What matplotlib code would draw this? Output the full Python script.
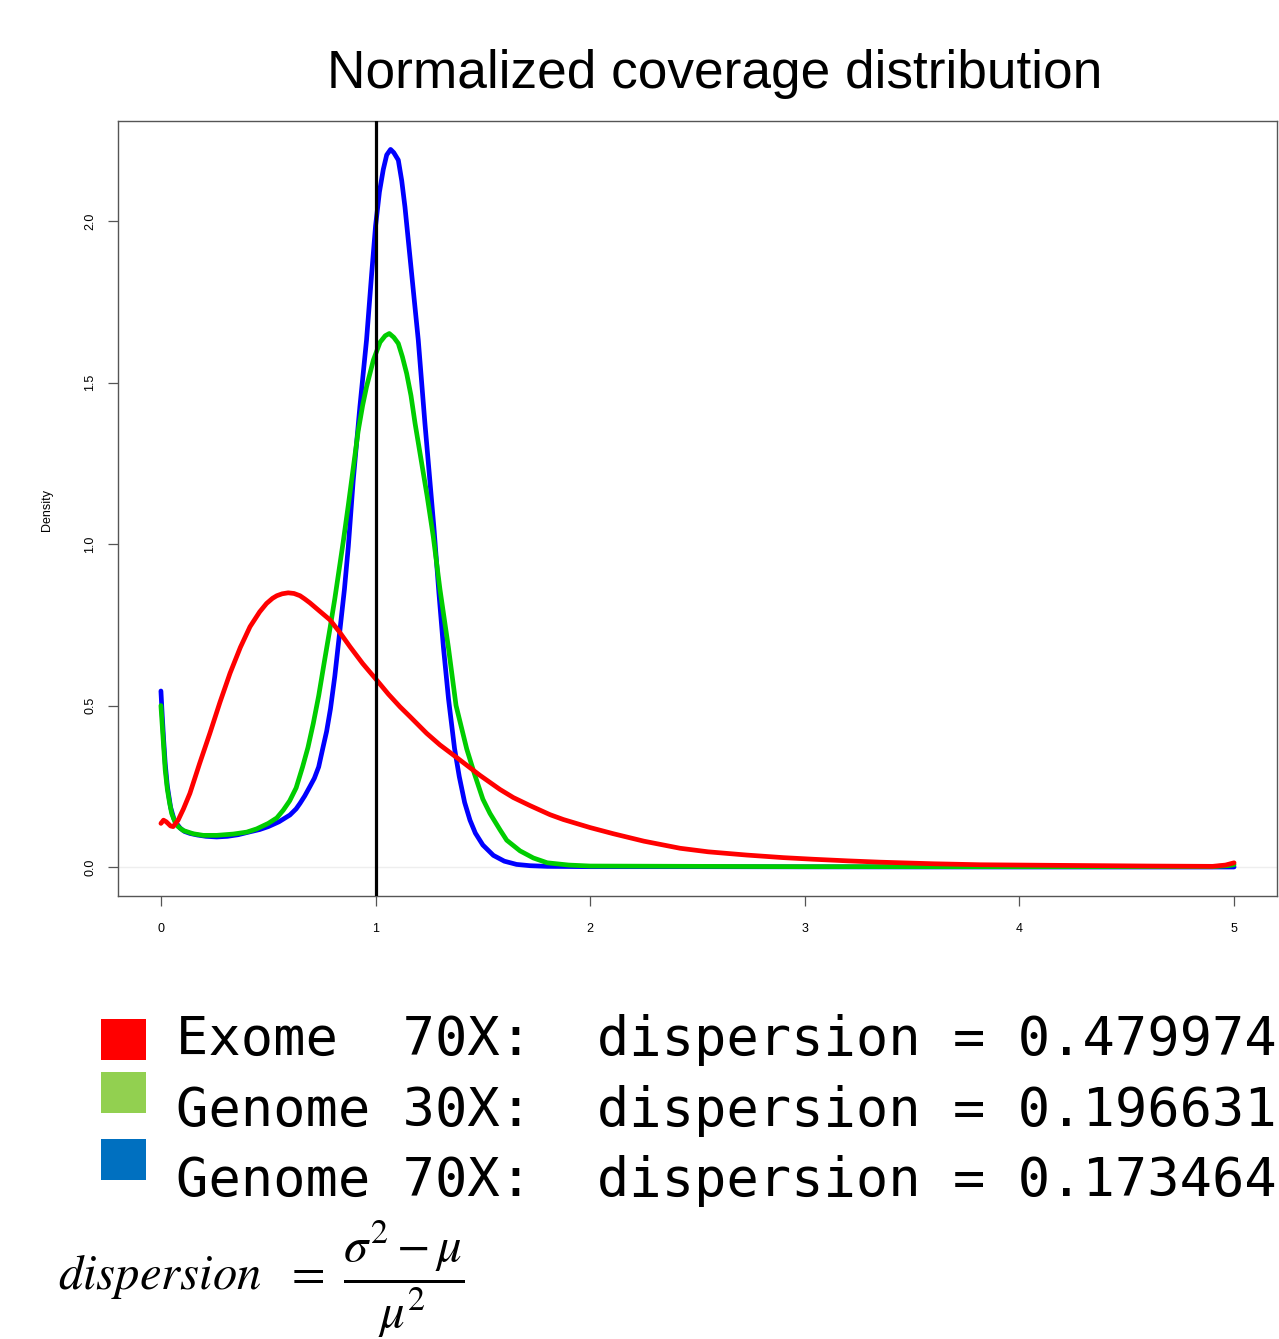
import matplotlib
matplotlib.use("Agg")
import matplotlib.pyplot as plt
from matplotlib.patches import Rectangle

# ---------------- data ----------------
blue_x = [0.000, 0.006, 0.013, 0.020, 0.030, 0.045, 0.060, 0.073, 0.090, 0.110, 0.135, 0.17,
          0.21, 0.26, 0.31, 0.36, 0.415, 0.46, 0.50, 0.55, 0.601, 0.63, 0.648, 0.67, 0.694,
          0.715, 0.735, 0.755, 0.772, 0.790, 0.81, 0.834, 0.855, 0.873, 0.896, 0.927, 0.958,
          0.982, 1.000, 1.018, 1.036, 1.052, 1.070, 1.085, 1.106, 1.122, 1.137, 1.168, 1.199,
          1.230, 1.250, 1.272, 1.295, 1.316, 1.340, 1.368, 1.390, 1.415, 1.44, 1.465, 1.50,
          1.549, 1.60, 1.657, 1.72, 1.8, 2.0, 2.5, 3.0, 4.0, 5.0]
blue_y = [0.545, 0.47, 0.39, 0.32, 0.25, 0.185, 0.150, 0.135, 0.120, 0.110, 0.104, 0.099,
          0.095, 0.093, 0.095, 0.100, 0.109, 0.116, 0.125, 0.140, 0.161, 0.180, 0.197, 0.220,
          0.249, 0.275, 0.31, 0.37, 0.42, 0.49, 0.59, 0.734, 0.86, 0.992, 1.198, 1.425, 1.632,
          1.838, 1.985, 2.09, 2.16, 2.205, 2.222, 2.212, 2.189, 2.125, 2.044, 1.838, 1.632,
          1.374, 1.22, 1.05, 0.85, 0.682, 0.52, 0.367, 0.28, 0.20, 0.145, 0.105, 0.068, 0.036,
          0.018, 0.008, 0.004, 0.002, 0.001, 0.001, 0.0005, 0.0, 0.0]

green_x = [0.000, 0.006, 0.013, 0.020, 0.030, 0.040, 0.050, 0.065, 0.080, 0.104, 0.15, 0.197,
           0.26, 0.337, 0.40, 0.446, 0.50, 0.54, 0.57, 0.60, 0.63, 0.66, 0.685, 0.71, 0.735,
           0.76, 0.788, 0.81, 0.83, 0.850, 0.873, 0.895, 0.919, 0.94, 0.958, 0.99, 1.021,
           1.045, 1.064, 1.085, 1.106, 1.125, 1.145, 1.165, 1.184, 1.215, 1.240, 1.269, 1.30,
           1.339, 1.375, 1.425, 1.46, 1.50, 1.533, 1.58, 1.611, 1.673, 1.735, 1.80, 1.9, 2.0,
           2.5, 3.0, 4.0, 4.9, 4.97, 5.0]
green_y = [0.50, 0.44, 0.37, 0.30, 0.24, 0.20, 0.166, 0.14, 0.125, 0.113, 0.103, 0.098,
           0.098, 0.102, 0.108, 0.118, 0.135, 0.152, 0.176, 0.205, 0.245, 0.31, 0.37, 0.445,
           0.53, 0.63, 0.74, 0.83, 0.92, 1.01, 1.12, 1.23, 1.35, 1.43, 1.487, 1.57, 1.625,
           1.645, 1.652, 1.64, 1.621, 1.58, 1.528, 1.46, 1.374, 1.25, 1.15, 1.023, 0.86, 0.682,
           0.50, 0.365, 0.29, 0.21, 0.166, 0.115, 0.083, 0.050, 0.028, 0.013, 0.006, 0.003,
           0.002, 0.001, 0.001, 0.001, 0.004, 0.007]

red_x = [0.000, 0.012, 0.025, 0.045, 0.057, 0.08, 0.105, 0.135, 0.18, 0.228, 0.275, 0.322,
         0.37, 0.415, 0.46, 0.492, 0.52, 0.54, 0.565, 0.593, 0.62, 0.648, 0.67, 0.694, 0.74,
         0.788, 0.835, 0.881, 0.94, 1.005, 1.06, 1.114, 1.16, 1.238, 1.30, 1.378, 1.486,
         1.580, 1.642, 1.72, 1.813, 1.875, 2.0, 2.108, 2.25, 2.419, 2.55, 2.729, 2.9, 3.04,
         3.2, 3.35, 3.6, 3.816, 4.2, 4.6, 4.9, 4.96, 5.0]
red_y = [0.135, 0.145, 0.14, 0.127, 0.125, 0.145, 0.18, 0.228, 0.32, 0.414, 0.51, 0.60,
         0.68, 0.744, 0.79, 0.816, 0.832, 0.840, 0.846, 0.849, 0.847, 0.840, 0.830, 0.818,
         0.792, 0.765, 0.725, 0.682, 0.63, 0.579, 0.535, 0.496, 0.466, 0.414, 0.378, 0.339,
         0.284, 0.240, 0.215, 0.19, 0.162, 0.147, 0.122, 0.103, 0.080, 0.058, 0.047, 0.037,
         0.029, 0.024, 0.019, 0.015, 0.010, 0.007, 0.005, 0.003, 0.002, 0.006, 0.013]

x_ticks = [0, 1, 2, 3, 4, 5]
y_ticks = [0.0, 0.5, 1.0, 1.5, 2.0]
y_ticklabels = ["0.0", "0.5", "1.0", "1.5", "2.0"]
ref_line_x = 1.0

title = "Normalized coverage distribution"
legend_labels = ["Exome  70X:  dispersion = 0.479974",
                 "Genome 30X:  dispersion = 0.196631",
                 "Genome 70X:  dispersion = 0.173464"]
legend_colors = ["#FF0000", "#92D050", "#0070C0"]

# ---------------- figure ----------------
W, H = 1279, 1339
fig = plt.figure(figsize=(W / 100, H / 100), dpi=100)
fig.patch.set_facecolor("white")

def fx(px):
    return px / W

def fy(py):
    return 1 - py / H

ax = fig.add_axes([fx(118), fy(896), fx(1277) - fx(118), fy(121) - fy(896)])
ax.set_xlim(-0.2, 5.2)
ax.set_ylim(-0.0898, 2.31)

ax.axhline(0, color="#eeeeee", lw=1, zorder=1)
ax.plot(blue_x, blue_y, color="#0000FF", lw=3.4, solid_capstyle="round",
        solid_joinstyle="round", zorder=3)
ax.plot(green_x, green_y, color="#00CD00", lw=3.4, solid_capstyle="round",
        solid_joinstyle="round", zorder=4)
ax.plot(red_x, red_y, color="#FF0000", lw=3.4, solid_capstyle="round",
        solid_joinstyle="round", zorder=5)
ax.axvline(ref_line_x, color="black", lw=2.3, zorder=6)

for s in ax.spines.values():
    s.set_color("#555555")
    s.set_linewidth(1.0)

tick_font = dict(family="Liberation Sans", size=9)
ax.set_xticks(x_ticks)
ax.set_xticklabels([str(t) for t in x_ticks], fontdict=tick_font)
ax.set_yticks(y_ticks)
ax.set_yticklabels(y_ticklabels, fontdict=tick_font, rotation=90, va="center")
ax.tick_params(axis="x", length=7.5, width=0.9, color="#555555", pad=12)
ax.tick_params(axis="y", length=7.5, width=0.9, color="#555555", pad=8)

fig.text(fx(47), fy(510), "Density", rotation=90, ha="center", va="center",
         family="Liberation Sans", size=9)

fig.text(fx(715), fy(88), title, ha="center", va="baseline",
         family="Liberation Sans", size=38.3)

# legend block
square_tops = [1019, 1072, 1139]
baselines = [1055, 1126, 1196]
for top, col in zip(square_tops, legend_colors):
    fig.patches.append(Rectangle((fx(101), fy(top + 41)), fx(45), 41 / H,
                                 transform=fig.transFigure, facecolor=col,
                                 edgecolor="none"))
for bl, lab in zip(baselines, legend_labels):
    fig.text(fx(176), fy(bl), lab, ha="left", va="baseline",
             family="DejaVu Sans Mono", size=38.7)

plt.rcParams["mathtext.fontset"] = "stix"
fig.text(fx(58), fy(1279), r"$dispersion\ \ =\ \dfrac{\sigma^2-\mu}{\mu^2}$",
         ha="left", va="center", size=35)

fig.savefig("out.png", dpi=100, facecolor="white")
